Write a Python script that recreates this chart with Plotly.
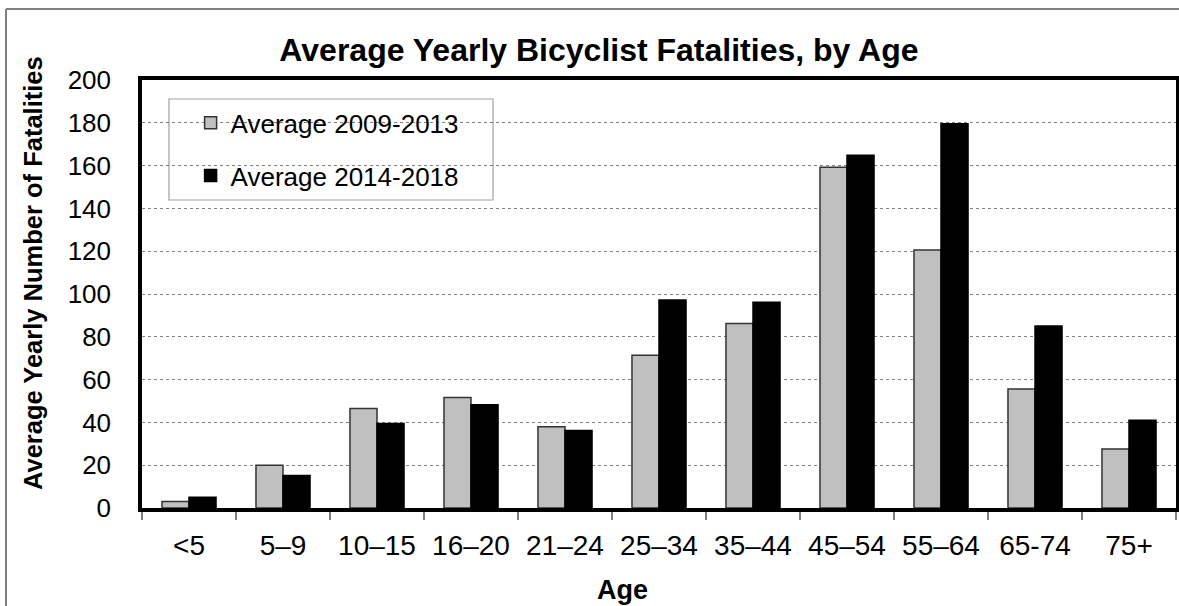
import plotly.graph_objects as go

# ---- data ----
age_groups = ["<5", "5–9", "10–15", "16–20", "21–24", "25–34", "35–44", "45–54", "55–64", "65-74", "75+"]
avg_2009_2013 = [3, 20, 46.5, 51.6, 38, 71.4, 86.2, 159.2, 120.6, 55.6, 27.6]
avg_2014_2018 = [5, 15.2, 39.5, 48.2, 36.2, 97.2, 96.2, 164.8, 179.6, 85, 41]
series_names = ["Average 2009-2013", "Average 2014-2018"]
y_ticks = [0, 20, 40, 60, 80, 100, 120, 140, 160, 180, 200]

FONT = "Arial, Liberation Sans, sans-serif"

fig = go.Figure()
fig.add_trace(go.Bar(
    x=age_groups, y=avg_2009_2013, name=series_names[0], legendgroup="a",
    marker=dict(color="#C0C0C0", line=dict(color="#333333", width=1.5)),
))
fig.add_trace(go.Bar(
    x=age_groups, y=avg_2014_2018, name=series_names[1], legendgroup="b",
    marker=dict(color="#000000", line=dict(color="#000000", width=1.5)),
))

fig.update_layout(
    width=1179, height=606,
    margin=dict(l=142, r=3, t=80, b=98, autoexpand=False),
    paper_bgcolor="white", plot_bgcolor="white",
    font=dict(family=FONT, color="black"),
    barmode="group", bargap=0.425, bargroupgap=0,
    title=dict(text="<b>Average Yearly Bicyclist Fatalities, by Age</b>",
               font=dict(size=32, family=FONT, color="black"),
               x=0.508, xanchor="center", y=0.917, yanchor="middle"),
    showlegend=True,
    legend=dict(x=0.047, y=0.955, xanchor="left", yanchor="top",
                bgcolor="rgba(0,0,0,0)", borderwidth=0,
                font=dict(size=26, family=FONT, color="black"),
                tracegroupgap=16, traceorder="grouped"),
    xaxis=dict(
        type="category", showline=True, linecolor="black", linewidth=3.5, mirror=True,
        ticks="outside", tickson="boundaries", ticklen=8, tickwidth=1.5, tickcolor="#808080",
        tickfont=dict(size=28, family=FONT, color="black"),
        ticklabelstandoff=10, showgrid=False,
    ),
    yaxis=dict(
        range=[0, 200], tickvals=y_ticks, showline=True, linecolor="black", linewidth=3.5, mirror=True,
        ticks="", tickfont=dict(size=26, family=FONT, color="black"),
        ticklabelstandoff=22,
        showgrid=True, gridcolor="#808080", gridwidth=1, griddash="dot", zeroline=False,
    ),
    shapes=[
        # legend box
        dict(type="rect", xref="paper", yref="paper", x0=0.0261, x1=0.3395, y0=0.7196, y1=0.9556,
             line=dict(color="#A0A0A0", width=1.2), fillcolor="white", layer="below"),
        # outer chart border
        dict(type="line", xref="paper", yref="paper",
             x0=(6 - 142) / 1034, x1=(6 - 142) / 1034, y0=(508 - 9) / 428, y1=(508 - 606) / 428,
             line=dict(color="#808080", width=2)),
        dict(type="line", xref="paper", yref="paper",
             x0=(6 - 142) / 1034, x1=(1179 - 142) / 1034, y0=(508 - 9) / 428, y1=(508 - 9) / 428,
             line=dict(color="#808080", width=2)),
    ],
    annotations=[
        dict(text="<b>Average Yearly Number of Fatalities</b>", textangle=-90,
             xref="paper", yref="paper", x=(33 - 142) / 1034, y=(508 - 273) / 428,
             xanchor="center", yanchor="middle", showarrow=False,
             font=dict(size=25.5, family=FONT, color="black")),
        dict(text="<b>Age</b>", xref="paper", yref="paper",
             x=(622 - 142) / 1034, y=(508 - 590) / 428,
             xanchor="center", yanchor="middle", showarrow=False,
             font=dict(size=27, family=FONT, color="black")),
    ],
)

fig.write_html("out.html", config={"displayModeBar": False},
               post_script="document.body.style.margin='0';")
